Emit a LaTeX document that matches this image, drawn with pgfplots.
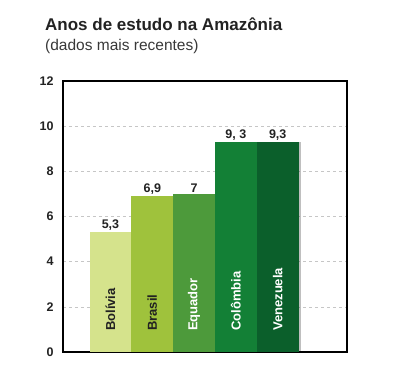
\documentclass[border=0pt]{standalone}
\usepackage{pgfplots}
\pgfplotsset{compat=1.18}
\usetikzlibrary{shadows}
\usepackage{fontspec}
\setmainfont{Liberation Sans}
\definecolor{cBol}{HTML}{D5E38C}
\definecolor{cBra}{HTML}{9FC23C}
\definecolor{cEqu}{HTML}{4D9A3B}
\definecolor{cCol}{HTML}{138036}
\definecolor{cVen}{HTML}{0B5F2B}
\definecolor{txt}{HTML}{222222}
\begin{document}
\begin{tikzpicture}
\path[use as bounding box] (0pt,0pt) rectangle (400pt,-370pt);
\node[anchor=base west, inner sep=0, text=txt, font=\bfseries\fontsize{17}{20}\selectfont] at (45pt,-30pt) {Anos de estudo na Amazônia};
\node[anchor=base west, inner sep=0, text=txt!90, font=\fontsize{15.5}{18}\selectfont] at (45pt,-50pt) {(dados mais recentes)};
\begin{axis}[
  at={(63pt,-352pt)}, anchor=south west,
  scale only axis, width=284pt, height=271pt,
  xmin=-1.136, xmax=5.658, ymin=0, ymax=12,
  ytick={0,2,...,12}, xtick=\empty,
  major tick length=0pt,
  ymajorgrids, grid style={dashed, gray!45, line width=0.6pt},
  axis line style={black, line width=1.2pt},
  /pgf/number format/assume math mode=true,
  yticklabel style={font=\bfseries\fontsize{12.5}{14}\selectfont, text=txt, xshift=-6pt},
  point meta=explicit symbolic,
  nodes near coords,
  nodes near coords style={font=\bfseries\fontsize{12.5}{14}\selectfont, text=txt, inner sep=1.5pt},
  bshadow/.style={drop shadow={shadow xshift=2pt, shadow yshift=0pt, opacity=0.25, fill=black}},
]
\addplot[ybar, bar width=1, bar shift=0pt, fill=cBol, draw=none, bshadow] coordinates {(0,5.3) [5,3]};
\addplot[ybar, bar width=1, bar shift=0pt, fill=cBra, draw=none, bshadow] coordinates {(1,6.9) [6,9]};
\addplot[ybar, bar width=1, bar shift=0pt, fill=cEqu, draw=none, bshadow] coordinates {(2,7.0) [7]};
\addplot[ybar, bar width=1, bar shift=0pt, fill=cCol, draw=none, bshadow] coordinates {(3,9.3) [9, 3]};
\addplot[ybar, bar width=1, bar shift=0pt, fill=cVen, draw=none, bshadow] coordinates {(4,9.3) [9,3]};
\begin{scope}[every node/.style={rotate=90, anchor=west, inner sep=0pt, font=\bfseries\fontsize{13}{15}\selectfont}]
\node[text=txt] at (axis cs:0,0.93) {Bolívia};
\node[text=txt] at (axis cs:1,0.93) {Brasil};
\node[text=white] at (axis cs:2,0.93) {Equador};
\node[text=white] at (axis cs:3,0.93) {Colômbia};
\node[text=white] at (axis cs:4,0.93) {Venezuela};
\end{scope}
\end{axis}
\end{tikzpicture}
\end{document}
